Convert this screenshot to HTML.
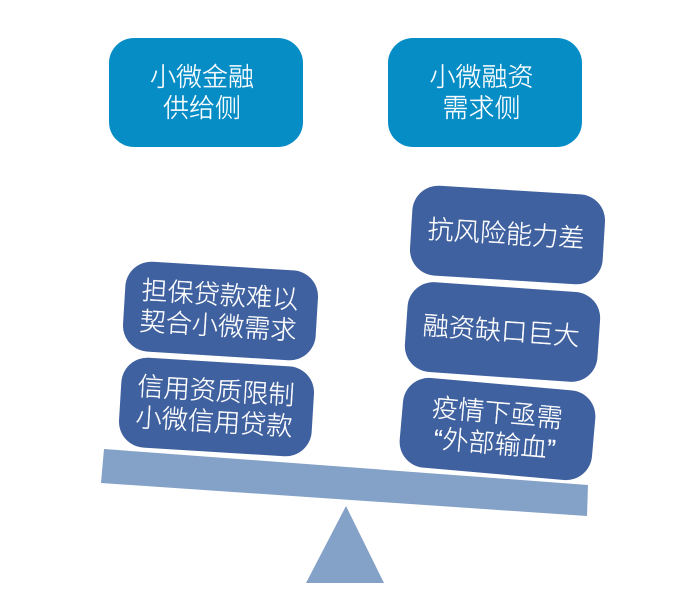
<!DOCTYPE html>
<html>
<head>
<meta charset="utf-8">
<style>
html,body{margin:0;padding:0;background:#fff;}
#c{position:relative;width:675px;height:602px;overflow:hidden;background:#fff;font-family:"Liberation Sans","Noto Sans CJK SC",sans-serif;}
.b{position:absolute;display:flex;align-items:center;justify-content:center;text-align:center;color:#fff;font-size:26px;line-height:31px;font-weight:300;white-space:nowrap;-webkit-text-stroke:0.2px #fff;}
.b span{position:relative;}
.t span{left:-3.5px;top:0.5px;}
.r span{left:-1.5px;top:-0.5px;}
.t{background:#078dc6;width:194px;height:109px;border-radius:25px;top:38px;}
.r{background:#40619f;width:193px;height:90px;border-radius:26px;font-size:26.2px;}
svg{position:absolute;left:0;top:0;}
</style>
</head>
<body>
<div id="c">
<svg width="675" height="602">
<polygon points="104,449 588,485 587,516 101,483" fill="#84a1c7"/>
<polygon points="346,506 384,583 306,583" fill="#84a1c7"/>
</svg>
<div class="b t" style="left:108.5px;"><span>小微金融<br>供给侧</span></div>
<div class="b t" style="left:388px;"><span>小微融资<br>需求侧</span></div>
<div class="b r" style="left:124px;top:265.5px;transform:rotate(3.5deg);"><span>担保贷款难以<br>契合小微需求</span></div>
<div class="b r" style="left:119.5px;top:361.5px;transform:rotate(3.5deg);"><span>信用资质限制<br>小微信用贷款</span></div>
<div class="b r" style="left:410.5px;top:190px;transform:rotate(3.5deg);"><span>抗风险能力差</span></div>
<div class="b r" style="left:405.5px;top:287px;transform:rotate(4deg);"><span>融资缺口巨大</span></div>
<div class="b r" style="left:401px;top:384px;transform:rotate(5deg);"><span>疫情下亟需<br>“外部输血”</span></div>
</div>
</body>
</html>
